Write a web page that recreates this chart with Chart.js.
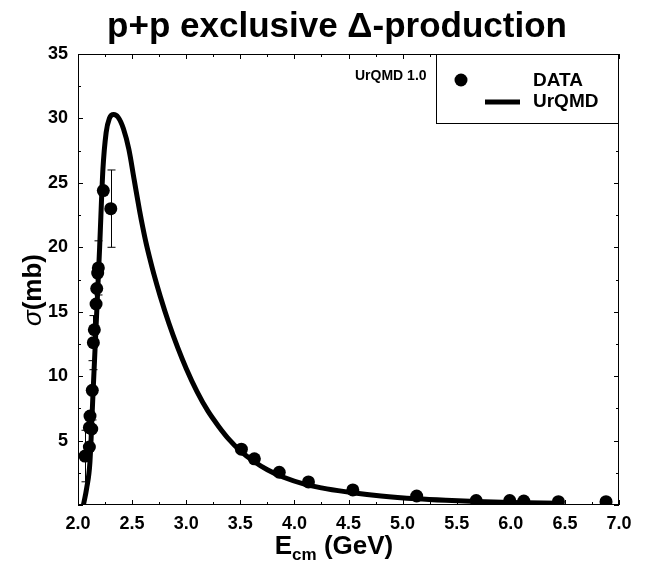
<!DOCTYPE html>
<html>
<head>
<meta charset="utf-8">
<script src="https://cdn.jsdelivr.net/npm/chart.js@4/dist/chart.umd.min.js"></script>
<style>
  body { margin: 0; background: #fff; }
  #wrap { width: 658px; height: 565px; }
</style>
</head>
<body>
<div id="wrap"><canvas id="chart" width="658" height="565"></canvas></div>
<script>
// measured cross sections (E_cm in GeV, sigma in mb)
const dataE = [2.065, 2.105, 2.105, 2.127, 2.111, 2.132, 2.142, 2.151, 2.167, 2.173, 2.182, 2.188, 2.234, 2.303,
               3.51, 3.63, 3.86, 4.13, 4.54, 5.13, 5.68, 5.99, 6.12, 6.44, 6.88];
const dataSigma = [3.8, 4.5, 6.0, 5.9, 6.9, 8.9, 12.6, 13.6, 15.6, 16.8, 18.0, 18.4, 24.4, 23.0,
                   4.33, 3.58, 2.54, 1.79, 1.17, 0.70, 0.34, 0.34, 0.31, 0.26, 0.26];
const dataErr = [2.0, 0, 0, 0, 0, 2.3, 2.1, 0, 0, 0, 0, 2.1, 0, 3.0,
                 0, 0, 0, 0, 0, 0, 0, 0, 0, 0, 0];

// UrQMD curve
const curveE = [2.05, 2.08, 2.11, 2.14, 2.17, 2.20, 2.23, 2.26, 2.29, 2.33, 2.37, 2.42, 2.47, 2.52, 2.57,
                2.60, 2.63, 2.66, 2.70, 2.76, 2.84, 2.92, 3.00, 3.10, 3.20, 3.30, 3.40, 3.50, 3.62, 3.75,
                3.90, 4.10, 4.30, 4.54, 4.80, 5.13, 5.40, 5.68, 6.00, 6.45];
const curveSigma = [0.0, 1.3, 3.3, 8.9, 14.4, 20.0, 26.0, 28.9, 30.0, 30.3, 30.1, 29.2, 27.6, 25.2, 22.8,
                    21.5, 20.3, 19.25, 17.95, 16.2, 14.1, 12.25, 10.6, 8.8, 7.3, 6.1, 5.05, 4.2, 3.42, 2.74,
                    2.15, 1.6, 1.25, 0.95, 0.70, 0.48, 0.36, 0.27, 0.20, 0.13];

const FONT = 'Liberation Sans, Arial, sans-serif';

const points = dataE.map((e, i) => ({ x: e, y: dataSigma[i] }));
const curve = curveE.map((e, i) => ({ x: e, y: curveSigma[i] }));

// frame, inward ticks, error bars, legend and labels
const decor = {
  id: 'decor',
  afterDatasetsDraw(chart) {
    const { ctx, chartArea: a, scales: { x, y } } = chart;
    ctx.save();
    ctx.strokeStyle = '#000';
    ctx.lineWidth = 1;

    // error bars
    dataErr.forEach((err, i) => {
      if (!err) return;
      const px = Math.round(x.getPixelForValue(dataE[i])) + 0.5;
      const y1 = y.getPixelForValue(dataSigma[i] + err);
      const y2 = y.getPixelForValue(Math.max(dataSigma[i] - err, 0));
      ctx.beginPath();
      ctx.moveTo(px, y1); ctx.lineTo(px, y2);
      ctx.moveTo(px - 4, y1); ctx.lineTo(px + 4, y1);
      ctx.moveTo(px - 4, y2); ctx.lineTo(px + 4, y2);
      ctx.stroke();
    });

    // box
    ctx.strokeRect(a.left + 0.5, a.top + 0.5, a.right - a.left - 1, a.bottom - a.top - 1);

    // ticks on all sides
    ctx.beginPath();
    for (let v = 2; v <= 7.001; v += 0.25) {
      const px = Math.round(x.getPixelForValue(v)) + 0.5;
      const len = Math.abs(v * 2 - Math.round(v * 2)) < 1e-6 ? 5 : 3;
      ctx.moveTo(px, a.bottom); ctx.lineTo(px, a.bottom - len);
      ctx.moveTo(px, a.top); ctx.lineTo(px, a.top + len);
    }
    for (let v = 0; v <= 35.001; v += 2.5) {
      const py = Math.round(y.getPixelForValue(v)) + 0.5;
      const len = v % 5 === 0 ? 5 : 3;
      ctx.moveTo(a.left, py); ctx.lineTo(a.left + len, py);
      ctx.moveTo(a.right, py); ctx.lineTo(a.right - len, py);
    }
    ctx.stroke();

    // legend
    ctx.fillStyle = '#fff';
    ctx.fillRect(436, a.top, a.right - 436, 69);
    ctx.strokeRect(436.5, a.top + 0.5, a.right - 437, 69);
    ctx.fillStyle = '#000';
    ctx.beginPath();
    ctx.arc(461, 80, 6.5, 0, Math.PI * 2);
    ctx.fill();
    ctx.lineWidth = 5;
    ctx.beginPath();
    ctx.moveTo(485, 102); ctx.lineTo(520, 102);
    ctx.stroke();
    ctx.font = 'bold 19px ' + FONT;
    ctx.textBaseline = 'middle';
    ctx.textAlign = 'left';
    ctx.fillText('DATA', 533, 81);
    ctx.fillText('UrQMD', 533, 102);

    ctx.font = 'bold 14px ' + FONT;
    ctx.fillText('UrQMD 1.0', 355, 76);

    // title
    ctx.font = 'bold 35px ' + FONT;
    ctx.textAlign = 'center';
    ctx.textBaseline = 'alphabetic';
    ctx.fillText('p+p exclusive \u0394-production', 337, 37);

    // x axis title with subscript
    ctx.textAlign = 'left';
    ctx.font = 'bold 26px ' + FONT;
    const wE = ctx.measureText('E').width;
    ctx.font = 'bold 17px ' + FONT;
    const wSub = ctx.measureText('cm').width;
    ctx.font = 'bold 26px ' + FONT;
    const wRest = ctx.measureText(' (GeV)').width;
    const sx = 334 - (wE + wSub + wRest) / 2;
    ctx.fillText('E', sx, 554);
    ctx.font = 'bold 17px ' + FONT;
    ctx.fillText('cm', sx + wE, 560);
    ctx.font = 'bold 26px ' + FONT;
    ctx.fillText(' (GeV)', sx + wE + wSub, 554);

    // y axis title
    ctx.translate(41, 290);
    ctx.rotate(-Math.PI / 2);
    ctx.font = 'italic 26px ' + FONT;
    const wSig = ctx.measureText('\u03c3').width;
    ctx.font = 'bold 26px ' + FONT;
    const wMb = ctx.measureText('(mb)').width;
    const ox = -(wSig + wMb) / 2;
    ctx.font = 'italic 26px ' + FONT;
    ctx.fillText('\u03c3', ox, 0);
    ctx.font = 'bold 26px ' + FONT;
    ctx.fillText('(mb)', ox + wSig, 0);
    ctx.restore();
  }
};

new Chart(document.getElementById('chart'), {
  data: {
    datasets: [
      {
        type: 'scatter',
        label: 'DATA',
        data: points,
        pointRadius: 6.5,
        pointBackgroundColor: '#000',
        pointBorderColor: '#000',
        pointBorderWidth: 0
      },
      {
        type: 'line',
        label: 'UrQMD',
        data: curve,
        borderColor: '#000',
        borderWidth: 5,
        pointRadius: 0,
        fill: false,
        cubicInterpolationMode: 'monotone'
      }
    ]
  },
  options: {
    responsive: false,
    animation: false,
    devicePixelRatio: 1,
    layout: { padding: { top: 54, right: 39, left: 0, bottom: 0 } },
    plugins: { legend: { display: false }, tooltip: { enabled: false } },
    scales: {
      x: {
        type: 'linear',
        min: 2, max: 7,
        afterFit(s) { s.height = 60; },
        grid: { display: false, drawTicks: false },
        border: { display: false },
        ticks: {
          stepSize: 0.5,
          autoSkip: false,
          maxRotation: 0,
          padding: 8,
          color: '#000',
          font: { family: FONT, size: 18, weight: 'bold' },
          callback: v => v.toFixed(1)
        }
      },
      y: {
        type: 'linear',
        min: 0, max: 35,
        afterFit(s) { s.width = 78; },
        grid: { display: false, drawTicks: false },
        border: { display: false },
        ticks: {
          stepSize: 5,
          padding: 10,
          color: '#000',
          font: { family: FONT, size: 18, weight: 'bold' },
          callback: v => v === 0 ? '' : v
        }
      }
    }
  },
  plugins: [decor]
});
</script>
</body>
</html>
